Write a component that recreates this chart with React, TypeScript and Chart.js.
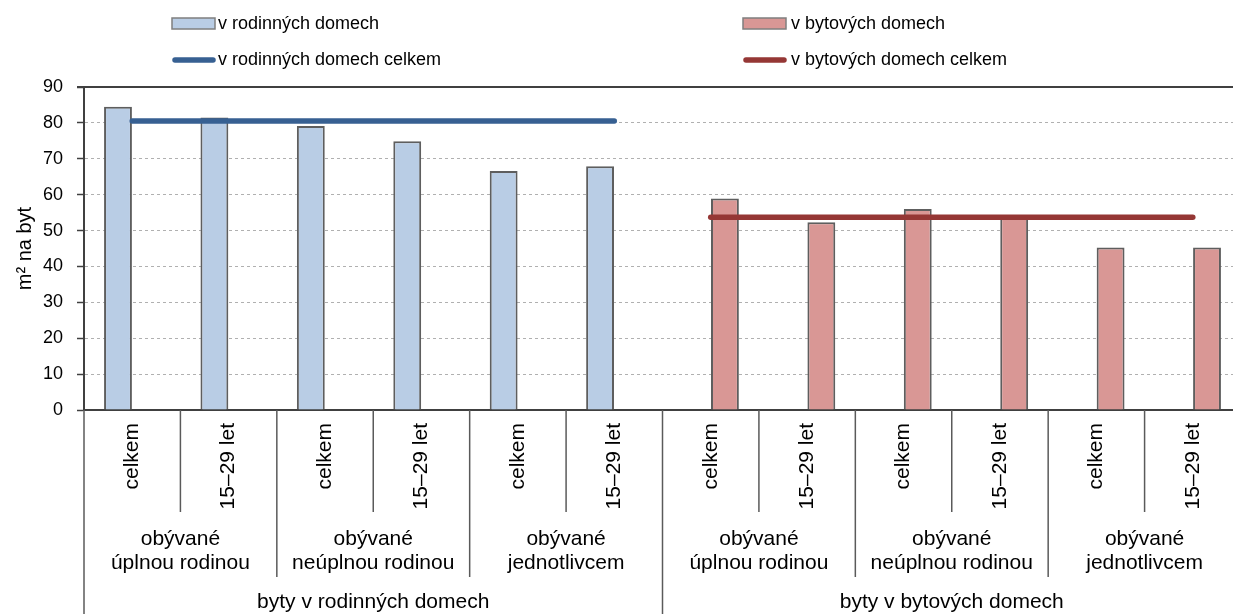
import React, { useEffect, useRef } from 'react';
import { Chart, registerables } from 'chart.js';

Chart.register(...registerables);

const categories = [
  'celkem', '15–29 let', 'celkem', '15–29 let', 'celkem', '15–29 let',
  'celkem', '15–29 let', 'celkem', '15–29 let', 'celkem', '15–29 let',
];
const groupLabels = [
  ['obývané', 'úplnou rodinou'],
  ['obývané', 'neúplnou rodinou'],
  ['obývané', 'jednotlivcem'],
  ['obývané', 'úplnou rodinou'],
  ['obývané', 'neúplnou rodinou'],
  ['obývané', 'jednotlivcem'],
];
const mainLabels = ['byty v rodinných domech', 'byty v bytových domech'];

const rodinneLabel = 'v rodinných domech';
const bytoveLabel = 'v bytových domech';
const rodinneCelkemLabel = 'v rodinných domech celkem';
const bytoveCelkemLabel = 'v bytových domech celkem';

const rodinneValues = [84.5, 81.5, 79.1, 74.9, 66.6, 67.9, null, null, null, null, null, null];
const bytoveValues = [null, null, null, null, null, null, 58.9, 52.3, 56.0, 54.0, 45.3, 45.3];
const rodinneCelkem = [80.5, 80.5, 80.5, 80.5, 80.5, 80.5, null, null, null, null, null, null];
const bytoveCelkem = [null, null, null, null, null, null, 53.7, 53.7, 53.7, 53.7, 53.7, 53.7];

const yMin = 0;
const yMax = 90;
const yStep = 10;
const yTitle = 'm² na byt';

const FONT = "'Liberation Sans', Arial, sans-serif";
const BLUE_FILL = '#b9cde5';
const RED_FILL = '#d99795';
const BAR_BORDER = '#5e5e5e';
const BLUE_LINE = '#376092';
const RED_LINE = '#953735';
const AXIS = '#404040';
const SEP = '#5a5a5a';

const customPlugin = {
  id: 'customDecor',
  afterDraw(chart: any) {
    const ctx = chart.ctx;
    const xs = chart.scales.x;
    const ys = chart.scales.y;
    const { left, right, bottom } = chart.chartArea;
    const H = chart.height;
    const n = categories.length;
    const boundary = (i: number) =>
      i === 0 ? left : i === n ? right : (xs.getPixelForValue(i - 1) + xs.getPixelForValue(i)) / 2;

    ctx.save();
    // top frame line at max
    const yTop = ys.getPixelForValue(yMax);
    ctx.strokeStyle = AXIS;
    ctx.lineWidth = 2;
    ctx.beginPath();
    ctx.moveTo(left - 7, yTop);
    ctx.lineTo(right, yTop);
    ctx.stroke();

    // separators
    ctx.strokeStyle = SEP;
    ctx.lineWidth = 1.5;
    for (let i = 0; i <= n; i++) {
      const x = boundary(i);
      const depth = i % 6 === 0 ? H : i % 2 === 0 ? 577 : 512;
      ctx.beginPath();
      ctx.moveTo(x, bottom);
      ctx.lineTo(x, depth);
      ctx.stroke();
    }

    ctx.fillStyle = '#000';
    // rotated category labels
    ctx.font = `21px ${FONT}`;
    for (let i = 0; i < n; i++) {
      const cx = xs.getPixelForValue(i);
      ctx.save();
      ctx.translate(cx, bottom + 13);
      ctx.rotate(-Math.PI / 2);
      ctx.textAlign = 'right';
      ctx.textBaseline = 'middle';
      ctx.fillText(categories[i], 0, 0);
      ctx.restore();
    }
    // group labels
    ctx.textAlign = 'center';
    ctx.textBaseline = 'middle';
    for (let g = 0; g < groupLabels.length; g++) {
      const cx = (boundary(g * 2) + boundary(g * 2 + 2)) / 2;
      ctx.fillText(groupLabels[g][0], cx, 539);
      ctx.fillText(groupLabels[g][1], cx, 563);
    }
    // main labels
    for (let m = 0; m < mainLabels.length; m++) {
      const cx = (boundary(m * 6) + boundary(m * 6 + 6)) / 2;
      ctx.fillText(mainLabels[m], cx, 602);
    }

    // legend
    ctx.font = `18px ${FONT}`;
    ctx.textAlign = 'left';
    ctx.textBaseline = 'middle';
    const drawBox = (x: number, y: number, fill: string) => {
      ctx.fillStyle = fill;
      ctx.fillRect(x, y, 43, 11);
      ctx.strokeStyle = '#7f7f7f';
      ctx.lineWidth = 1.5;
      ctx.strokeRect(x, y, 43, 11);
    };
    const drawLine = (x: number, y: number, color: string) => {
      ctx.strokeStyle = color;
      ctx.lineWidth = 5.5;
      ctx.lineCap = 'round';
      ctx.beginPath();
      ctx.moveTo(x + 3, y);
      ctx.lineTo(x + 41, y);
      ctx.stroke();
      ctx.lineCap = 'butt';
    };
    drawBox(172, 18, BLUE_FILL);
    drawBox(743, 18, RED_FILL);
    drawLine(172, 60, BLUE_LINE);
    drawLine(743, 60, RED_LINE);
    ctx.fillStyle = '#000';
    ctx.fillText(rodinneLabel, 218, 24);
    ctx.fillText(bytoveLabel, 791, 24);
    ctx.fillText(rodinneCelkemLabel, 218, 60);
    ctx.fillText(bytoveCelkemLabel, 791, 60);
    ctx.restore();
  },
};

export default function App() {
  const canvasRef = useRef<HTMLCanvasElement | null>(null);

  useEffect(() => {
    const canvas = canvasRef.current;
    if (!canvas) return;
    Chart.defaults.font.family = FONT;
    Chart.defaults.color = '#000';
    const chart = new Chart(canvas, {
      type: 'bar',
      data: {
        labels: categories,
        datasets: [
          {
            type: 'line',
            label: rodinneCelkemLabel,
            data: rodinneCelkem,
            borderColor: BLUE_LINE,
            borderWidth: 5.5,
            borderCapStyle: 'round',
            pointRadius: 0,
            spanGaps: false,
            tension: 0,
            order: 1,
          } as any,
          {
            type: 'line',
            label: bytoveCelkemLabel,
            data: bytoveCelkem,
            borderColor: RED_LINE,
            borderWidth: 5.5,
            borderCapStyle: 'round',
            pointRadius: 0,
            spanGaps: false,
            tension: 0,
            order: 1,
          } as any,
          {
            type: 'bar',
            label: rodinneLabel,
            data: rodinneValues,
            backgroundColor: BLUE_FILL,
            borderColor: BAR_BORDER,
            borderWidth: 2,
            categoryPercentage: 0.59,
            barPercentage: 0.98,
            order: 2,
          } as any,
          {
            type: 'bar',
            label: bytoveLabel,
            data: bytoveValues,
            backgroundColor: RED_FILL,
            borderColor: BAR_BORDER,
            borderWidth: 2,
            categoryPercentage: 0.59,
            barPercentage: 0.98,
            order: 2,
          } as any,
        ],
      },
      options: {
        responsive: false,
        animation: false,
        devicePixelRatio: 1,
        layout: { padding: { top: 87, left: 0, right: 0, bottom: 0 } },
        plugins: {
          legend: { display: false },
          tooltip: { enabled: false },
          title: { display: false },
        },
        scales: {
          x: {
            type: 'category',
            offset: true,
            grid: { display: false, drawTicks: false },
            ticks: { display: false },
            border: { color: AXIS, width: 2 },
            afterFit: (s: any) => {
              s.height = 204;
            },
          },
          y: {
            min: yMin,
            max: yMax,
            ticks: { stepSize: yStep, padding: 14, font: { size: 18 }, color: '#000' },
            grid: {
              color: '#b0b0b0',
              lineWidth: 1,
              tickColor: AXIS,
              tickLength: 7,
              tickWidth: 1.5,
            },
            border: { color: AXIS, width: 2, dash: [3, 3] },
            title: {
              display: true,
              text: yTitle,
              font: { size: 20 },
              color: '#000',
              padding: { top: 13, bottom: 0 },
            },
            afterFit: (s: any) => {
              s.width = 84;
            },
          },
        },
      } as any,
      plugins: [customPlugin],
    });
    return () => chart.destroy();
  }, []);

  return (
    <div
      style={{
        position: 'absolute',
        left: 0,
        top: 0,
        width: 1233,
        height: 614,
        overflow: 'hidden',
        background: '#fff',
      }}
    >
      <canvas ref={canvasRef} width={1241} height={614} style={{ display: 'block', width: 1241, height: 614 }} />
    </div>
  );
}
